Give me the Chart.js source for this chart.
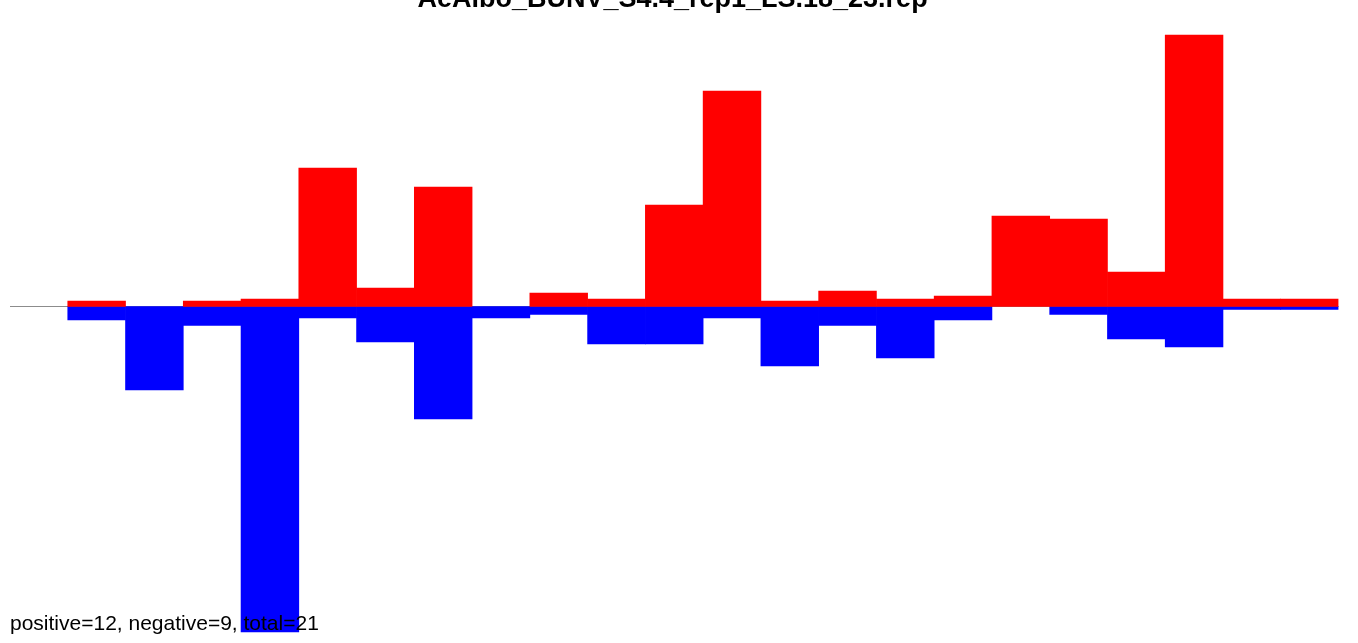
<!DOCTYPE html>
<html>
<head>
<meta charset="utf-8">
<script src="https://cdn.jsdelivr.net/npm/chart.js@4.4.1/dist/chart.umd.min.js"></script>
<style>
  html, body { margin: 0; padding: 0; background: #ffffff; overflow: hidden; }
  #wrap { width: 1358px; height: 643px; position: relative; }
</style>
</head>
<body>
<div id="wrap"><canvas id="c" width="1358" height="643"></canvas></div>
<script>
const titleText = "AeAlbo_BUNV_S4.4_rep1_LS.18_23.rep";
const footerText = "positive=12, negative=9, total=21";
const categories = ["1","2","3","4","5","6","7","8","9","10","11","12","13","14","15","16","17","18","19","20","21","22","23"];
const positiveValues = [0, 5.5, 0, 5.5, 7.5, 138.5, 18.5, 119.5, 0, 13.5, 7.5, 101.5, 215.5, 5.5, 15.5, 7.5, 10.5, 90.5, 87.5, 34.5, 271.5, 7.5, 7.5];
const negativeValues = [0, -13.5, -83.5, -19, -325.5, -11.5, -35.5, -112.5, -11.5, -8, -37.5, -37.5, -11.5, -59.5, -19, -51.5, -13.5, 0, -8, -32.5, -40.5, -3, -3];
const yMin = -333.5;
const yMax = 286.5;

// zero-height bars are not drawn (avoid the anti-gap inflation drawing a hairline)
const asBars = arr => arr.map(v => (v === 0 ? null : v));

const overlay = {
  id: 'overlay',
  beforeDatasetsDraw(chart) {
    const ctx = chart.ctx;
    const a = chart.chartArea;
    const y0 = chart.scales.y.getPixelForValue(0);
    ctx.save();
    ctx.strokeStyle = '#8c8c8c';
    ctx.lineWidth = 1.2;
    ctx.beginPath();
    ctx.moveTo(a.left, y0);
    ctx.lineTo(a.right, y0);
    ctx.stroke();
    ctx.restore();
  },
  afterDraw(chart) {
    const ctx = chart.ctx;
    ctx.save();
    ctx.fillStyle = '#000000';
    ctx.textBaseline = 'alphabetic';
    ctx.font = 'bold 27px "Liberation Sans", Arial, sans-serif';
    ctx.textAlign = 'center';
    ctx.fillText(titleText, 672.5, 7);
    ctx.font = '21px "Liberation Sans", Arial, sans-serif';
    ctx.textAlign = 'left';
    ctx.fillText(footerText, 10, 630);
    ctx.restore();
  }
};

new Chart(document.getElementById('c'), {
  type: 'bar',
  data: {
    labels: categories,
    datasets: [
      { label: 'positive', data: asBars(positiveValues), backgroundColor: '#ff0000', borderWidth: 0, barPercentage: 1, categoryPercentage: 1 },
      { label: 'negative', data: asBars(negativeValues), backgroundColor: '#0000ff', borderWidth: 0, barPercentage: 1, categoryPercentage: 1 }
    ]
  },
  options: {
    responsive: false,
    animation: false,
    layout: { padding: { left: 10, right: 19.5, top: 20, bottom: 3 } },
    plugins: { legend: { display: false }, title: { display: false }, tooltip: { enabled: false } },
    scales: {
      x: { stacked: true, display: false },
      y: { stacked: true, display: false, min: yMin, max: yMax }
    }
  },
  plugins: [overlay]
});
</script>
</body>
</html>
